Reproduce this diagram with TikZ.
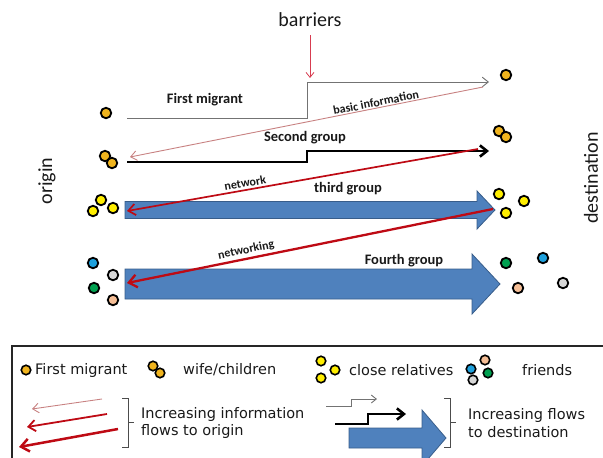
\documentclass[tikz,border=0pt]{standalone}
\usepackage{fontspec}
\setmainfont{Carlito}
\newfontfamily\legfont{DejaVu Sans}
\usetikzlibrary{arrows.meta}
\definecolor{gold}{RGB}{240,180,30}
\definecolor{yel}{RGB}{255,238,0}
\definecolor{fblue}{RGB}{30,160,220}
\definecolor{fgray}{RGB}{215,215,215}
\definecolor{fgreen}{RGB}{0,160,80}
\definecolor{fpeach}{RGB}{245,190,150}
\definecolor{arrfill}{RGB}{79,129,189}
\definecolor{arrdraw}{RGB}{56,93,138}
\definecolor{dred}{RGB}{190,10,20}
\definecolor{pinkline}{RGB}{200,130,130}
\definecolor{barred}{RGB}{215,60,80}
\definecolor{txt}{RGB}{25,25,25}
\begin{document}
\begin{tikzpicture}[x=1pt,y=-1pt,
  dot/.style={circle,draw=black,line width=1.8pt,minimum size=10.5pt,inner sep=0pt},
  sdot/.style={dot,minimum size=9.5pt,line width=1.6pt},
  lbl/.style={text=txt,font=\bfseries\fontsize{14.5}{17}\selectfont,inner sep=1pt},
  slbl/.style={text=txt,font=\bfseries\fontsize{12}{14}\selectfont,inner sep=2pt},
  big/.style={text=txt,font=\fontsize{20}{22}\selectfont,inner sep=0pt},
  leg/.style={text=txt,font=\legfont\fontsize{14.5}{17.5}\selectfont,inner sep=0pt,anchor=west,align=left},
  fat/.style={fill=arrfill,draw=arrdraw,line width=0.8pt},
  barb/.style={-{Straight Barb[length=#1,width=1.6*#1]}},
  bracket/.style={draw=black!70,line width=0.8pt}
  ]
\useasboundingbox (0,0) rectangle (603,458);

% titles
\node[big] (barriers) at (310,20) {barriers};
\node[big,rotate=90] (origin) at (47,181) {origin};
\node[big,rotate=90] (dest) at (591,178) {destination};

% barrier marker
\coordinate (bartop) at (310,35);
\coordinate (bartip) at (310,78);
\draw[barred,line width=0.8pt,barb=5pt] (bartop) -- (bartip);

% blue fat arrows
\coordinate (t3a) at (125,201.5);
\draw[fat] (t3a) -- (477,201.5) -- (477,191) -- (495,210) -- (477,229) -- (477,218.5) -- (125,218.5) -- cycle;
\coordinate (t4a) at (125,269);
\draw[fat] (t4a) -- (472,269) -- (472,254) -- (500,284) -- (472,314) -- (472,299) -- (125,299) -- cycle;

% first migrant path
\coordinate (fm1) at (127,118);
\coordinate (fmstep) at (307,82);
\coordinate (fm2) at (489,82);
\draw[black!55,line width=0.9pt,barb=6pt] (fm1) -| (fmstep) -- (fm2);
\node[lbl] (fmlabel) at (205,100) {First migrant};

% second group path
\coordinate (sg1) at (127,162);
\coordinate (sgstep) at (307,151);
\coordinate (sg2) at (489,151);
\draw[black,line width=2.6pt,barb=7pt] (sg1) -| (sgstep) -- (sg2);
\node[lbl] (sglabel) at (305,138) {Second group};

\node[lbl] (t3label) at (348,189) {third group};
\node[lbl] (t4label) at (404,261) {Fourth group};

% information flows
\coordinate (bi1) at (483,87);
\coordinate (bi2) at (130,157);
\draw[pinkline,line width=0.9pt,barb=6pt] (bi1) -- node[slbl,sloped,above,pos=0.3,inner sep=1pt] {basic information} (bi2);
\coordinate (nw1) at (478,149);
\coordinate (nw2) at (127,211);
\draw[dred,line width=1.7pt,barb=7pt] (nw1) -- node[slbl,sloped,above,pos=0.66] {network} (nw2);
\coordinate (nk1) at (493,209);
\coordinate (nk2) at (127,283);
\draw[dred,line width=2.3pt,barb=8pt] (nk1) -- node[slbl,sloped,above,pos=0.67] {networking} (nk2);

% origin people
\node[dot,fill=gold] (o1) at (106,113) {};
\node[dot,fill=gold] (o2a) at (105,156) {};
\node[dot,fill=gold] (o2b) at (112,163) {};
\node[dot,fill=yel] (o3a) at (101,200) {};
\node[dot,fill=yel] (o3b) at (93,211) {};
\node[dot,fill=yel] (o3c) at (113,208) {};
\node[dot,fill=fblue] (o4a) at (93,263) {};
\node[dot,fill=fgray] (o4b) at (113,275) {};
\node[dot,fill=fgreen] (o4c) at (94,288) {};
\node[dot,fill=fpeach] (o4d) at (113,300) {};

% destination people
\node[dot,fill=gold] (d1) at (506,75) {};
\node[dot,fill=gold] (d2a) at (499,131) {};
\node[dot,fill=gold] (d2b) at (506,137) {};
\node[dot,fill=yel] (d3a) at (499,194) {};
\node[dot,fill=yel] (d3b) at (524,201) {};
\node[dot,fill=yel] (d3c) at (506,213) {};
\node[dot,fill=fgreen] (d4a) at (506,263) {};
\node[dot,fill=fblue] (d4b) at (543,258) {};
\node[dot,fill=fpeach] (d4c) at (518,288) {};
\node[dot,fill=fgray] (d4d) at (563,283) {};

% legend box
\coordinate (boxbl) at (12,462);
\coordinate (boxtl) at (12,346);
\coordinate (boxtr) at (606,346);
\draw[black!85,line width=1.6pt] (boxbl) -- (boxtl) -- (boxtr);

% legend row 1
\node[sdot,fill=gold] (l1) at (26,370) {};
\node[leg] (l1t) at (35,370) {First migrant};
\node[sdot,fill=gold] (l2a) at (153,366) {};
\node[sdot,fill=gold] (l2b) at (160,373) {};
\node[leg] (l2t) at (183,370) {wife/children};
\node[sdot,fill=yel] (l3a) at (321,361) {};
\node[sdot,fill=yel] (l3b) at (321,378) {};
\node[sdot,fill=yel] (l3c) at (335,370) {};
\node[leg] (l3t) at (349,370) {close relatives};
\node[sdot,fill=fblue] (l4a) at (471,369) {};
\node[sdot,fill=fpeach] (l4b) at (485,360) {};
\node[sdot,fill=fgray] (l4c) at (473,380) {};
\node[sdot,fill=fgreen] (l4d) at (488,373) {};
\node[leg] (l4t) at (522,370) {friends};

% legend row 2 left
\coordinate (la1) at (102,399); \coordinate (la2) at (32,409);
\draw[pinkline,line width=0.9pt,barb=6pt] (la1) -- (la2);
\coordinate (lb1) at (107,414); \coordinate (lb2) at (27,427);
\draw[dred,line width=1.8pt,barb=7pt] (lb1) -- (lb2);
\coordinate (lc1) at (118,429); \coordinate (lc2) at (19,447);
\draw[dred,line width=2.5pt,barb=8pt] (lc1) -- (lc2);
\coordinate (bl1) at (122,398); \coordinate (bl2) at (122,447);
\draw[bracket] (bl1) -- ++(6,0) |- (bl2);
\coordinate (blm) at (128,422);
\draw[bracket] (blm) -- ++(6,0);
\node[leg] (lt1) at (141,423) {Increasing information\\flows to origin};

% legend row 2 right
\coordinate (ra1) at (326,406); \coordinate (rastep) at (351,399); \coordinate (ra2) at (377,399);
\draw[black!55,line width=0.9pt,barb=5pt] (ra1) -| (rastep) -- (ra2);
\coordinate (rb1) at (335,424); \coordinate (rbstep) at (368,414); \coordinate (rb2) at (406,414);
\draw[black,line width=2.6pt,barb=7pt] (rb1) -| (rbstep) -- (rb2);
\coordinate (rc) at (349,428);
\draw[fat] (rc) -- (422,428) -- (422,410) -- (446,438) -- (422,466) -- (422,448) -- (349,448) -- cycle;
\coordinate (br1) at (444,398); \coordinate (br2) at (444,447);
\draw[bracket] (br1) -- ++(6,0) |- (br2);
\coordinate (brm) at (450,422);
\draw[bracket] (brm) -- ++(6,0);
\node[leg] (rt1) at (468,423) {Increasing flows\\to destination};
\end{tikzpicture}
\end{document}
